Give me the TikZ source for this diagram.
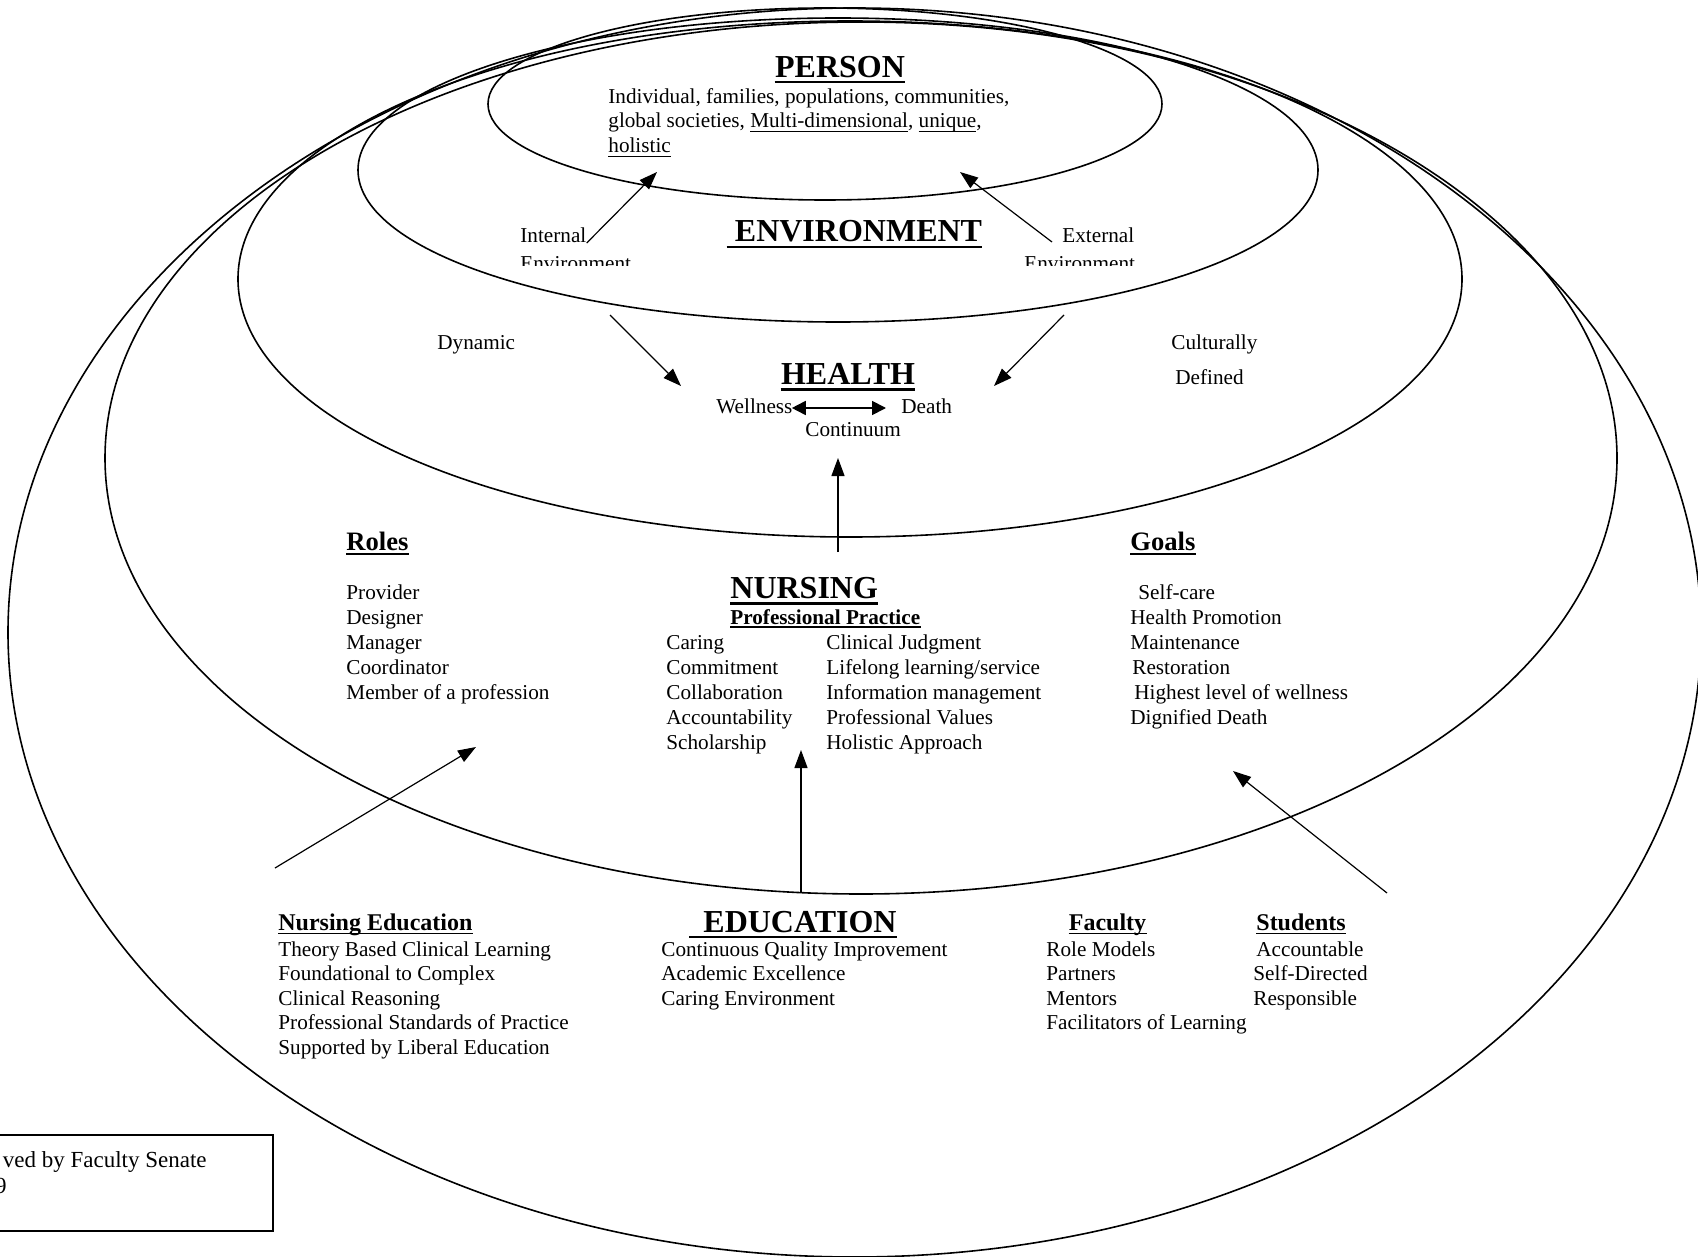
\documentclass[tikz,border=0pt]{standalone}
\usepackage{fontspec}
\setmainfont{Liberation Serif}
\usetikzlibrary{arrows.meta,shapes.geometric}
\newsavebox\myulbox
\newcommand\myul[1]{\sbox\myulbox{#1}\rlap{\rule[-1.9pt]{\wd\myulbox}{0.6pt}}\usebox\myulbox}
\begin{document}
\begin{tikzpicture}[x=0.5pt,y=-0.5pt,
  oval/.style={draw, ellipse, line width=0.8pt, inner sep=0pt, outer sep=0pt},
  txt/.style={anchor=base west, inner sep=0pt, font=\fontsize{10.6}{12.5}\selectfont},
  txtb/.style={anchor=base west, inner sep=0pt, font=\fontsize{10.6}{12.5}\selectfont\bfseries},
  head/.style={anchor=base, inner sep=0pt, font=\fontsize{16}{19}\selectfont\bfseries},
  sub/.style={anchor=base west, inner sep=0pt, font=\fontsize{12}{14}\selectfont\bfseries},
  subL/.style={anchor=base west, inner sep=0pt, font=\fontsize{13.3}{15}\selectfont\bfseries},
  note/.style={anchor=base east, inner sep=0pt, font=\fontsize{11.5}{14}\selectfont},
  arr/.style={-{Triangle[length=9pt,width=6.5pt]}, line width=0.6pt},
  dbl/.style={{Triangle[length=7pt,width=7pt]}-{Triangle[length=7pt,width=7pt]}, line width=0.9pt},
  ulh/.style={line width=1.3pt},
  uls/.style={line width=0.9pt},
  ulb/.style={line width=0.7pt},
]
\useasboundingbox (0,0) rectangle (1698,1257);
\clip (0,0) rectangle (1698,1257);

% ovals
\node[oval, minimum width=337pt, minimum height=96pt] (personOval) at (825,104) {};
\node[oval, minimum width=480pt, minimum height=152pt] (envOval) at (838,170) {};
\node[oval, minimum width=612pt, minimum height=258pt] (healthOval) at (850,279) {};
\node[oval, minimum width=756pt, minimum height=436pt] (nursOval) at (861,458) {};
\node[oval, minimum width=846.5pt, minimum height=624.5pt] (eduOval) at (854.5,632.5) {};

% PERSON
\node[head] (personT) at (840,78) {PERSON};
\draw[ulh] ([yshift=-2pt]personT.base west) -- ([yshift=-2pt]personT.base east);
\node[txt] (p1) at (608,104) {Individual, families, populations, communities,};
\node[txt] (p2) at (608,128) {global societies, \myul{Multi-dimensional}, \myul{unique},};
\node[txt] (p3) at (608,153) {\myul{holistic}};

% ENVIRONMENT
\node[head] (envT) at (858.5,242) {ENVIRONMENT};
\draw[ulh] ([xshift=-4pt,yshift=-2.6pt]envT.base west) -- ([yshift=-2.6pt]envT.base east);
\node[txt] (int1) at (520,243) {Internal};
\node[txt] (ext1) at (1062,243) {External};
\begin{scope}
  \clip (0,0) rectangle (1698,266);
  \node[txt] (int2) at (520,271) {Environment};
  \node[txt] (ext2) at (1024,271) {Environment};
\end{scope}
\coordinate (iaE) at (657,172);
\coordinate (eaS) at (1052,242);
\coordinate (eaE) at (960,172);
\draw[arr] (int1.base east) -- (iaE);
\draw[arr] (eaS) -- (eaE);

% side words
\node[txt] (dyn) at (437,350) {Dynamic};
\node[txt] (cult) at (1171,350) {Culturally};
\node[txt] (defd) at (1175,385) {Defined};
\coordinate (laS) at (610,315);
\coordinate (laE) at (681,386);
\coordinate (raS) at (1064,315);
\coordinate (raE) at (994,386);
\draw[arr] (laS) -- (laE);
\draw[arr] (raS) -- (raE);

% HEALTH
\node[head] (healthT) at (848,385) {HEALTH};
\draw[ulh] ([yshift=-2.2pt]healthT.base west) -- ([yshift=-2.2pt]healthT.base east);
\node[txt] (well) at (716,413) {Wellness};
\node[txt] (death) at (901,413) {Death};
\node[txt] (cont) at (805,437) {Continuum};
\draw[dbl] ([xshift=-0.5pt,yshift=2.5pt]well.base east) -- ([xshift=-7.5pt,yshift=2.5pt]death.base west);

\coordinate (nhS) at (838,552);
\coordinate (nhE) at (838,458);
\draw[arr] (nhS) -- (nhE);

% Roles
\node[subL] (roles) at (346,550) {Roles};
\draw[uls] ([yshift=-1.8pt]roles.base west) -- ([yshift=-1.8pt]roles.base east);
\foreach \t [count=\i] in {Provider,Designer,Manager,Coordinator,Member of a profession}
  \node[txt] (role\i) at (346,574+25*\i) {\t};

% Goals
\node[subL] (goals) at (1130,550) {Goals};
\draw[uls] ([yshift=-1.8pt]goals.base west) -- ([yshift=-1.8pt]goals.base east);
\foreach \x/\t [count=\i] in {1138/Self-care,1130/Health Promotion,1130/Maintenance,1132/Restoration,1134/Highest level of wellness,1130/Dignified Death}
  \node[txt] (goal\i) at (\x,574+25*\i) {\t};

% NURSING
\node[head, anchor=base west] (nursT) at (730,598) {NURSING};
\draw[ulh] ([yshift=-2.6pt]nursT.base west) -- ([yshift=-2.6pt]nursT.base east);
\node[txtb] (pp) at (730,624) {Professional Practice};
\draw[ulb] ([yshift=-1.5pt]pp.base west) -- ([yshift=-1.5pt]pp.base east);
\foreach \t [count=\i] in {Caring,Commitment,Collaboration,Accountability,Scholarship}
  \node[txt] (ncl\i) at (666,624+25*\i) {\t};
\foreach \t [count=\i] in {Clinical Judgment,Lifelong learning/service,Information management,Professional Values,Holistic Approach}
  \node[txt] (ncr\i) at (826,624+25*\i) {\t};

% arrows from education
\coordinate (enS) at (801,892);
\coordinate (enE) at (801,750);
\coordinate (lrS) at (275,868);
\coordinate (lrE) at (476,747);
\coordinate (rgS) at (1387,893);
\coordinate (rgE) at (1233,771);
\draw[arr] (enS) -- (enE);
\draw[arr] (lrS) -- (lrE);
\draw[arr] (rgS) -- (rgE);

% EDUCATION
\node[head] (eduT) at (800,932) {EDUCATION};
\draw[ulh] ([xshift=-7pt,yshift=-2.4pt]eduT.base west) -- ([yshift=-2.4pt]eduT.base east);
\foreach \t [count=\i] in {Continuous Quality Improvement,Academic Excellence,Caring Environment}
  \node[txt] (edu\i) at (661,931.5+24.5*\i) {\t};

\node[sub] (nedT) at (278,930) {Nursing Education};
\draw[uls] ([yshift=-1.7pt]nedT.base west) -- ([yshift=-1.7pt]nedT.base east);
\foreach \t [count=\i] in {Theory Based Clinical Learning,Foundational to Complex,Clinical Reasoning,Professional Standards of Practice,Supported by Liberal Education}
  \node[txt] (ned\i) at (278,931.5+24.5*\i) {\t};

\node[sub] (facT) at (1068.5,930) {Faculty};
\draw[uls] ([yshift=-1.7pt]facT.base west) -- ([yshift=-1.7pt]facT.base east);
\foreach \t [count=\i] in {Role Models,Partners,Mentors,Facilitators of Learning}
  \node[txt] (fac\i) at (1046,931.5+24.5*\i) {\t};

\node[sub] (stuT) at (1256,930) {Students};
\draw[uls] ([yshift=-1.7pt]stuT.base west) -- ([yshift=-1.7pt]stuT.base east);
\foreach \x/\t [count=\i] in {1256/Accountable,1253/Self-Directed,1253/Responsible}
  \node[txt] (stu\i) at (\x,931.5+24.5*\i) {\t};

% note box
\draw[line width=0.9pt] (-10,1135) rectangle (273,1231);
\node[note] (sen1) at (207,1167) {ved by Faculty Senate};
\node[note] (sen2) at (7,1193) {9};
\end{tikzpicture}
\end{document}
